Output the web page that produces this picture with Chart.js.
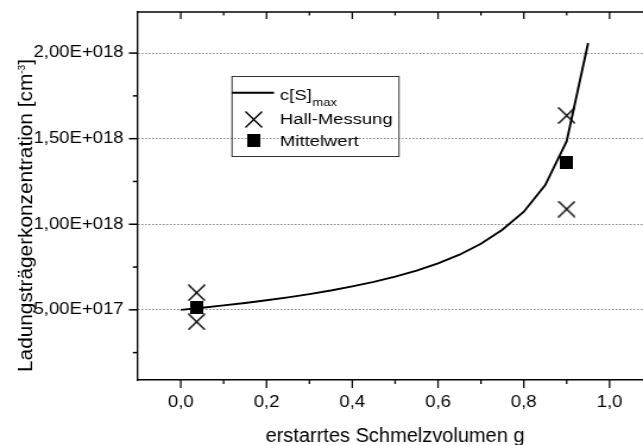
<!DOCTYPE html>
<html>
<head>
<meta charset="utf-8">
<script src="https://cdn.jsdelivr.net/npm/chart.js@4.4.1/dist/chart.umd.min.js"></script>
<style>
    html, body { margin: 0; padding: 0; background: #fff; overflow: hidden; }
    #wrap { width: 541px; height: 445px; transform: scaleX(1.18854); transform-origin: 0 0; }
</style>
</head>
<body>
<div id="wrap"><canvas id="chart" width="541" height="445"></canvas></div>
<script>
'use strict'
let gValues = [0, 0.05, 0.1, 0.15, 0.2, 0.25, 0.3, 0.35, 0.4, 0.45,
        0.5, 0.55, 0.6, 0.65, 0.7, 0.75, 0.8, 0.85, 0.9, 0.95],
    cMax = [5.00e17, 5.12e17, 5.26e17, 5.40e17, 5.56e17, 5.73e17, 5.92e17, 6.13e17, 6.37e17, 6.63e17,
        6.94e17, 7.29e17, 7.71e17, 8.22e17, 8.86e17, 9.68e17, 1.073e18, 1.229e18, 1.485e18, 2.059e18],
    hallG = [0.037, 0.037, 0.9, 0.9],
    hallC = [6.0e17, 4.3e17, 1.635e18, 1.088e18],
    meanG = [0.037, 0.9],
    meanC = [5.15e17, 1.363e18],
    xMajor = [0, 0.2, 0.4, 0.6, 0.8, 1.0],
    xMinor = [0.1, 0.3, 0.5, 0.7, 0.9],
    xTickLabels = ['0,0', '0,2', '0,4', '0,6', '0,8', '1,0'],
    yMajor = [5e17, 1e18, 1.5e18, 2e18],
    yMinor = [2.5e17, 7.5e17, 1.25e18, 1.75e18],
    yTickLabels = ['5,00E+017', '1,00E+018', '1,50E+018', '2,00E+018']

// canvas is drawn narrower and stretched by css: tick and legend text come out wide
// like in the original, the two axis titles are drawn unstretched (scale 1/S)
const S = 643 / 541
const FONT = '"Liberation Sans", Arial, sans-serif'

let makeCross = function () {
    let c = document.createElement('canvas')
    c.width = 15
    c.height = 17
    let x = c.getContext('2d')
    x.strokeStyle = '#000'
    x.lineWidth = 1.4
    x.beginPath()
    x.moveTo(0.5, 0.5)
    x.lineTo(14.5, 16.5)
    x.moveTo(14.5, 0.5)
    x.lineTo(0.5, 16.5)
    x.stroke()
    return c
}

let makeSquare = function () {
    let c = document.createElement('canvas')
    c.width = 11
    c.height = 13
    let x = c.getContext('2d')
    x.fillStyle = '#000'
    x.fillRect(0, 0, 11, 13)
    return c
}

let crossImg = makeCross(),
    squareImg = makeSquare()

// no extra label padding, the chart area is set by layout padding + fixed axis sizes
let noPad = function (s) {
    s.paddingLeft = 0
    s.paddingRight = 0
    s.paddingTop = 0
    s.paddingBottom = 0
}

let axisTicks = {
    id: 'axisTicks',
    afterDraw(chart) {
        let ctx = chart.ctx, a = chart.chartArea,
            xs = chart.scales.x, ys = chart.scales.y
        ctx.save()
        ctx.strokeStyle = '#000'

        // top axis line
        ctx.lineWidth = 1.6
        ctx.beginPath()
        ctx.moveTo(a.left, a.top)
        ctx.lineTo(a.right, a.top)
        ctx.stroke()

        ctx.lineWidth = 1.5 / S
        let vtick = (v, y1, y2) => {
            let px = xs.getPixelForValue(v)
            ctx.beginPath()
            ctx.moveTo(px, y1)
            ctx.lineTo(px, y2)
            ctx.stroke()
        }
        xMajor.forEach(v => { vtick(v, a.bottom, a.bottom + 8); vtick(v, a.top, a.top + 7) })
        xMinor.forEach(v => { vtick(v, a.bottom, a.bottom + 4); vtick(v, a.top, a.top + 3.5) })

        ctx.lineWidth = 1.5
        let htick = (v, len) => {
            let py = ys.getPixelForValue(v)
            ctx.beginPath()
            ctx.moveTo(a.left - len / S, py)
            ctx.lineTo(a.left, py)
            ctx.stroke()
        }
        yMajor.forEach(v => htick(v, 9))
        yMinor.forEach(v => htick(v, 5))
        ctx.restore()
    }
}

let axisTitles = {
    id: 'axisTitles',
    afterDraw(chart) {
        let ctx = chart.ctx
        ctx.save()
        ctx.scale(1 / S, 1)
        ctx.fillStyle = '#000'

        // x title
        ctx.font = '20px ' + FONT
        ctx.textAlign = 'center'
        ctx.textBaseline = 'alphabetic'
        ctx.fillText('erstarrtes Schmelzvolumen g', 395, 442)

        // y title with superscript
        let main = 'Ladungsträgerkonzentration [cm', sup = '-3', end = ']'
        let big = '20.5px ' + FONT, small = '10px ' + FONT
        ctx.translate(31.7, 215.5)
        ctx.rotate(-Math.PI / 2)
        ctx.textAlign = 'left'
        ctx.font = big
        let w1 = ctx.measureText(main).width, w3 = ctx.measureText(end).width
        ctx.font = small
        let w2 = ctx.measureText(sup).width
        let total = w1 + w2 + w3
        ctx.scale(313 / total, 1)
        let x0 = -total / 2
        ctx.font = big
        ctx.fillText(main, x0, 0)
        ctx.font = small
        ctx.fillText(sup, x0 + w1, -7)
        ctx.font = big
        ctx.fillText(end, x0 + w1 + w2, 0)
        ctx.restore()
    }
}

let legendBox = {
    id: 'legendBox',
    afterDraw(chart) {
        let ctx = chart.ctx
        ctx.save()
        ctx.strokeStyle = '#333'
        ctx.lineWidth = 1
        ctx.strokeRect(232 / S, 76.5, (399 - 232) / S, 80)

        ctx.strokeStyle = '#000'
        ctx.lineWidth = 2
        ctx.beginPath()
        ctx.moveTo(232 / S, 92.7)
        ctx.lineTo(274 / S, 92.7)
        ctx.stroke()

        ctx.fillStyle = '#000'
        ctx.textAlign = 'left'
        ctx.textBaseline = 'alphabetic'
        ctx.font = '15.5px ' + FONT
        ctx.fillText('c[S]', 280 / S, 99.5)
        let w = ctx.measureText('c[S]').width
        ctx.font = '11px ' + FONT
        ctx.fillText('max', 280 / S + w + 0.5, 105.5)

        ctx.font = '15.5px ' + FONT
        ctx.drawImage(crossImg, Math.round(254 / S - 7.5), Math.round(119.3 - 8.5))
        ctx.fillText('Hall-Messung', 280 / S, 124)
        ctx.drawImage(squareImg, Math.round(254 / S - 5.5), Math.round(140.7 - 6.5))
        ctx.fillText('Mittelwert', 280 / S, 146)
        ctx.restore()
    }
}

let data = {
    datasets: [{
        label: 'c[S]max',
        data: gValues.map((g, i) => ({x: g, y: cMax[i]})),
        showLine: true,
        borderColor: '#000',
        borderWidth: 1.9,
        pointRadius: 0,
        tension: 0,
        order: 2
    }, {
        label: 'Hall-Messung',
        data: hallG.map((g, i) => ({x: g, y: hallC[i]})),
        pointStyle: crossImg,
        pointRadius: 8,
        order: 1
    }, {
        label: 'Mittelwert',
        data: meanG.map((g, i) => ({x: g, y: meanC[i]})),
        pointStyle: squareImg,
        pointRadius: 8,
        order: 0
    }]
}

let config = {
    type: 'scatter',
    data: data,
    options: {
        responsive: false,
        animation: false,
        devicePixelRatio: 1,
        layout: {autoPadding: false, padding: {left: 26, right: 0, top: 12, bottom: 0}},
        plugins: {
            legend: {display: false},
            tooltip: {enabled: false}
        },
        scales: {
            x: {
                type: 'linear',
                position: 'bottom',
                min: -0.1,
                max: 1.078,
                afterBuildTicks: s => { s.ticks = xMajor.map(v => ({value: v})) },
                afterFit: s => { s.height = 65; noPad(s) },
                grid: {display: false, drawTicks: false},
                border: {display: true, color: '#000', width: 1.6},
                ticks: {
                    padding: 13,
                    color: '#000',
                    autoSkip: false,
                    maxRotation: 0,
                    font: {family: FONT, size: 15.6},
                    callback: (v, i) => xTickLabels[i]
                }
            },
            y: {
                type: 'linear',
                min: 0.09e18,
                max: 2.24e18,
                afterBuildTicks: s => { s.ticks = yMajor.map(v => ({value: v})) },
                afterFit: s => { s.width = 90; noPad(s) },
                grid: {display: true, drawTicks: false, color: '#444', lineWidth: 1},
                border: {display: true, color: '#000', width: 1.6 / S, dash: [1, 2]},
                ticks: {
                    padding: 12,
                    color: '#000',
                    autoSkip: false,
                    font: {family: FONT, size: 15.6},
                    callback: (v, i) => yTickLabels[i]
                }
            }
        }
    },
    plugins: [axisTicks, axisTitles, legendBox]
}

let myChart = new Chart(document.getElementById('chart'), config)
</script>
</body>
</html>
